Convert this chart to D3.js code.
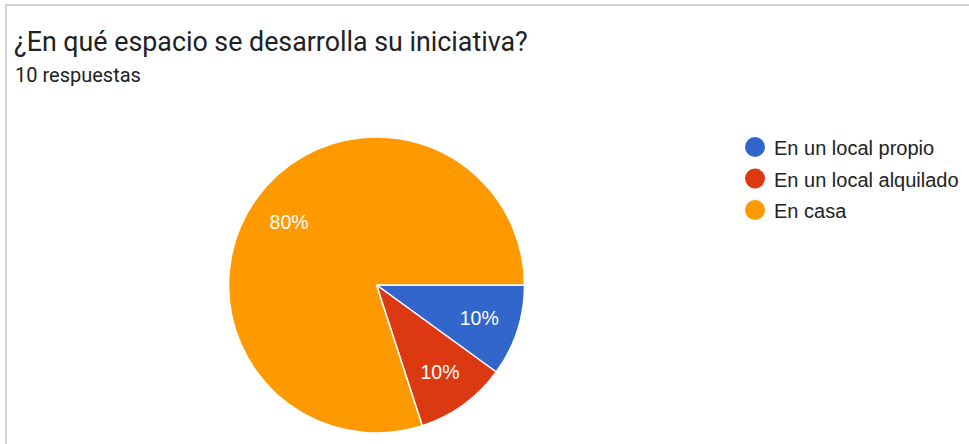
<!DOCTYPE html>
<html>
<head>
<meta charset="utf-8">
<script src="https://cdn.jsdelivr.net/npm/d3@7"></script>
<style>
  html, body { margin: 0; padding: 0; background: #fff; }
  svg { display: block; font-family: Roboto, Arial, sans-serif; }
</style>
</head>
<body>
<svg id="chart" width="969" height="444"></svg>
<script>
// Survey answers: "¿En qué espacio se desarrolla su iniciativa?"
const categories = ["En un local propio", "En un local alquilado", "En casa"];
const responses = [1, 1, 8];
const percentLabels = ["10%", "10%", "80%"];
const colors = ["#3366cc", "#dc3912", "#ff9900"];
const titleText = "¿En qué espacio se desarrolla su iniciativa?";
const subtitleText = "10 respuestas";

const svg = d3.select("#chart");

// Card outline (left and top edges visible)
svg.append("rect")
  .attr("x", 6).attr("y", 5)
  .attr("width", 1000).attr("height", 500)
  .attr("fill", "#fff")
  .attr("stroke", "#d3d3d3")
  .attr("stroke-width", 2);

svg.append("text")
  .attr("x", 14).attr("y", 50.5)
  .attr("font-size", 26.8)
  .attr("fill", "#202124")
  .text(titleText);

svg.append("text")
  .attr("x", 15).attr("y", 81.5)
  .attr("font-size", 20)
  .attr("fill", "#202124")
  .text(subtitleText);

// Pie
const cx = 376.5, cy = 285, R = 148;
const pie = d3.pie().sort(null).value(d => d)
  .startAngle(Math.PI / 2).endAngle(Math.PI / 2 + 2 * Math.PI);
const arcs = pie(responses);
const arc = d3.arc().innerRadius(0).outerRadius(R);
const labelArc = d3.arc().innerRadius(R * 0.73).outerRadius(R * 0.73);

const g = svg.append("g").attr("transform", `translate(${cx},${cy})`);
g.selectAll("path.slice")
  .data(arcs)
  .join("path")
  .attr("class", "slice")
  .attr("d", arc)
  .attr("fill", (d, i) => colors[i])
  .attr("stroke", "#fff")
  .attr("stroke-width", 1.5)
  .attr("stroke-linejoin", "round");

g.selectAll("text.pct")
  .data(arcs)
  .join("text")
  .attr("class", "pct")
  .attr("transform", d => `translate(${labelArc.centroid(d)})`)
  .attr("text-anchor", "middle")
  .attr("dy", "0.36em")
  .attr("font-family", "Arial, 'Liberation Sans', sans-serif")
  .attr("font-size", 19.5)
  .attr("fill", "#fff")
  .text((d, i) => percentLabels[i]);

// Legend
const legendX = 755, legendY0 = 147, legendStep = 31.5;
const legend = svg.append("g");
const items = legend.selectAll("g")
  .data(categories)
  .join("g")
  .attr("transform", (d, i) => `translate(${legendX},${legendY0 + i * legendStep})`);
items.append("circle")
  .attr("r", 10)
  .attr("fill", (d, i) => colors[i]);
items.append("text")
  .attr("x", 19)
  .attr("y", 8)
  .attr("font-family", "Arial, 'Liberation Sans', sans-serif")
  .attr("font-size", 20)
  .attr("fill", "#222")
  .text(d => d);
</script>
</body>
</html>
